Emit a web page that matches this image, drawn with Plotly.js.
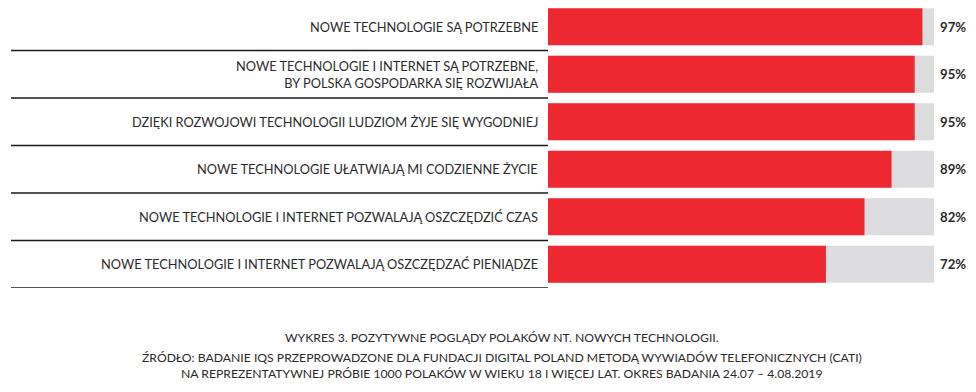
<!DOCTYPE html>
<html>
<head>
<meta charset="utf-8">
<script src="https://cdn.plot.ly/plotly-3.0.1.min.js"></script>
<style>html,body{margin:0;padding:0;background:#fff;}#chart{width:976px;height:392px;}</style>
</head>
<body>
<div id="chart"></div>
<script>
const categories = [
  "NOWE TECHNOLOGIE SĄ POTRZEBNE",
  "NOWE TECHNOLOGIE I INTERNET SĄ POTRZEBNE,<br>BY POLSKA GOSPODARKA SIĘ ROZWIJAŁA",
  "DZIĘKI ROZWOJOWI TECHNOLOGII LUDZIOM ŻYJE SIĘ WYGODNIEJ",
  "NOWE TECHNOLOGIE UŁATWIAJĄ MI CODZIENNE ŻYCIE",
  "NOWE TECHNOLOGIE I INTERNET POZWALAJĄ OSZCZĘDZIĆ CZAS",
  "NOWE TECHNOLOGIE I INTERNET POZWALAJĄ OSZCZĘDZAĆ PIENIĄDZE"
];
const values = [97, 95, 95, 89, 82, 72];
const totals = [100, 100, 100, 100, 100, 100];
const valueLabels = ["97%", "95%", "95%", "89%", "82%", "72%"];
const captionLines = [
  "WYKRES 3. POZYTYWNE POGLĄDY POLAKÓW NT. NOWYCH TECHNOLOGII.",
  "ŹRÓDŁO: BADANIE IQS PRZEPROWADZONE DLA FUNDACJI DIGITAL POLAND METODĄ WYWIADÓW TELEFONICZNYCH (CATI)",
  "NA REPREZENTATYWNEJ PRÓBIE 1000 POLAKÓW W WIEKU 18 I WIĘCEJ LAT. OKRES BADANIA 24.07 – 4.08.2019"
];

const W = 976, H = 392;
const plotTop = 2.75, plotBottom = 287.75;
const pyToPaper = py => (plotBottom - py) / (plotBottom - plotTop);
const ids = categories.map((c, i) => i);

const traces = [
  {type: 'bar', orientation: 'h', y: ids, x: totals, marker: {color: '#dcdcde'}, width: 0.78, hoverinfo: 'skip'},
  {type: 'bar', orientation: 'h', y: ids, x: values, marker: {color: '#ed2830'}, width: 0.78, hoverinfo: 'skip'}
];

const annotations = [];
categories.forEach((c, i) => {
  annotations.push({xref: 'paper', yref: 'y', x: 540 / W, y: i, xanchor: 'right', yanchor: 'middle',
    text: c, align: 'right', showarrow: false, font: {family: 'Lato', size: 12.8, color: '#2b2b2b'}});
  annotations.push({xref: 'x', yref: 'y', x: totals[i], y: i, xanchor: 'left', yanchor: 'middle', xshift: 4,
    text: '<b>' + valueLabels[i] + '</b>', showarrow: false, font: {family: 'Lato', size: 13.2, color: '#2b2b2b'}});
});
const captionY = [337, 357, 373];
captionLines.forEach((t, i) => {
  annotations.push({xref: 'paper', yref: 'paper', x: 502 / W, y: pyToPaper(captionY[i]), xanchor: 'center', yanchor: 'middle',
    text: t, showarrow: false, font: {family: 'Lato', size: 12.2, color: '#2b2b2b'}});
});

const shapes = categories.map((c, i) => ({type: 'line', xref: 'paper', yref: 'y', x0: 11 / W, x1: 548 / W, y0: i + 0.5, y1: i + 0.5,
  line: {color: '#1a1a1a', width: 1.3}}));

const layout = {
  width: W, height: H,
  margin: {l: 0, r: 0, t: plotTop, b: H - plotBottom, pad: 0},
  paper_bgcolor: '#fff', plot_bgcolor: '#fff',
  barmode: 'overlay', showlegend: false,
  xaxis: {domain: [548 / W, 934 / W], range: [0, 100], visible: false, fixedrange: true},
  yaxis: {range: [5.5, -0.5], visible: false, fixedrange: true},
  annotations: annotations, shapes: shapes
};
Plotly.newPlot('chart', traces, layout, {staticPlot: true});
</script>
</body>
</html>
